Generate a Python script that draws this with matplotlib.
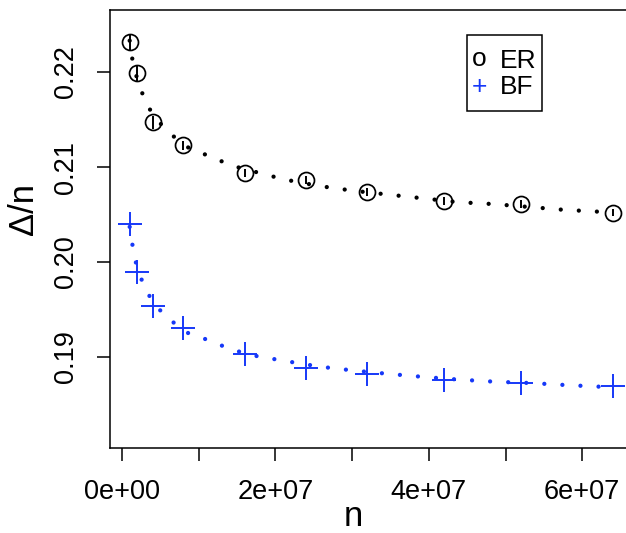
import numpy as np
import matplotlib
matplotlib.use("Agg")
import matplotlib.pyplot as plt
from matplotlib.patches import Rectangle

plt.rcParams['font.family'] = ['Liberation Sans', 'DejaVu Sans']

# measured points
n_vals = [1e6, 2e6, 4e6, 8e6, 1.6e7, 2.4e7, 3.2e7, 4.2e7, 5.2e7, 6.4e7]
er_vals = [0.2232, 0.2199, 0.2147, 0.2123, 0.2094, 0.2086, 0.2074, 0.2064, 0.2061, 0.2052]
er_err = [0.00084, 0.00084, 0.00068, 0.00047, 0.00042, 0.00042, 0.00042, 0.0004, 0.0004, 0.00038]
bf_vals = [0.2040, 0.1990, 0.1954, 0.1931, 0.1903, 0.1888, 0.1882, 0.1876, 0.1873, 0.1869]

# fitted curves
er_fit_n = [0.1e7, 0.134e7, 0.183e7, 0.257e7, 0.352e7, 0.473e7, 0.648e7, 0.821e7, 1.03e7,
            1.239e7, 1.451e7, 2.11e7, 2.57e7, 3.02e7, 3.47e7, 3.93e7, 4.38e7, 4.84e7,
            5.30e7, 5.75e7, 6.21e7, 6.4e7]
er_fit = [0.2233, 0.2214, 0.2197, 0.2179, 0.2162, 0.2148, 0.2134, 0.2122, 0.2115,
          0.2108, 0.2101, 0.2087, 0.2080, 0.2075, 0.2071, 0.2067, 0.2063, 0.2061,
          0.2058, 0.2055, 0.2053, 0.2052]
bf_fit_n = [0.1e7, 0.134e7, 0.179e7, 0.248e7, 0.343e7, 0.469e7, 0.639e7, 0.812e7, 1.03e7,
            1.243e7, 1.456e7, 1.678e7, 1.904e7, 2.125e7, 2.58e7, 3.04e7, 3.49e7, 3.95e7,
            4.41e7, 4.86e7, 5.32e7, 5.78e7, 6.24e7, 6.4e7]
bf_fit = [0.2037, 0.2019, 0.2000, 0.19828, 0.1966, 0.19513, 0.19386, 0.19266, 0.19207,
          0.19137, 0.19074, 0.19021, 0.18989, 0.18958, 0.18898, 0.18856, 0.18821, 0.18789,
          0.18761, 0.1874, 0.18726, 0.18705, 0.18687, 0.1868]

blue = '#1638f8'

fig = plt.figure(figsize=(6.26, 5.33), dpi=100)
ax = fig.add_axes([110 / 626, 85 / 533, 522 / 626, 438 / 533])

dots = dict(linestyle=(0, (0.001, 4.2)), linewidth=3.1, dash_capstyle='round')
ax.plot(er_fit_n, er_fit, color='black', **dots)
ax.plot(bf_fit_n, bf_fit, color=blue, **dots)

ax.errorbar(n_vals, er_vals, yerr=er_err, fmt='none', ecolor='black', elinewidth=1.4)
ax.plot(n_vals, er_vals, linestyle='none', marker='o', markersize=11.5,
        markerfacecolor='none', markeredgecolor='black', markeredgewidth=1.25)
ax.plot(n_vals, bf_vals, linestyle='none', marker='+', markersize=17.5,
        markeredgecolor=blue, markeredgewidth=1.4)

ax.set_xlim(-0.1565e7, 6.649e7)
ax.set_ylim(0.18042, 0.22653)
ax.set_xticks(np.arange(0, 7e7, 1e7))
ax.set_xticklabels(['0e+00', '', '2e+07', '', '4e+07', '', '6e+07'])
ax.set_yticks([0.19, 0.20, 0.21, 0.22])
ax.set_yticklabels(['0.19', '0.20', '0.21', '0.22'], rotation=90, va='center')
ax.tick_params(direction='out', length=9.5, width=1.1, labelsize=19.5, pad=13)
for s in ax.spines.values():
    s.set_linewidth(1.1)

ax.set_xlabel('n', fontsize=25)
ax.set_ylabel('Δ/n', fontsize=25)
ax.xaxis.set_label_coords(0.467, -0.118)
ax.yaxis.set_label_coords(-0.135, 0.545)

# legend box
ax.add_patch(Rectangle((467 / 522 - 110 / 522, (448 - 111) / 438), 75 / 522, 76 / 438,
                       transform=ax.transAxes, facecolor='white', edgecolor='black',
                       linewidth=1.1, zorder=5))
ax.text((479 - 110) / 522, (448 - 59) / 438, 'o', transform=ax.transAxes, fontsize=19,
        ha='center', va='center', zorder=6)
ax.text((500 - 110) / 522, (448 - 61) / 438, 'ER', transform=ax.transAxes, fontsize=19,
        ha='left', va='center', zorder=6)
ax.text((479 - 110) / 522, (448 - 87) / 438, '+', transform=ax.transAxes, fontsize=19,
        color=blue, ha='center', va='center', zorder=6)
ax.text((500 - 110) / 522, (448 - 87) / 438, 'BF', transform=ax.transAxes, fontsize=19,
        ha='left', va='center', zorder=6)

fig.savefig('out.png', dpi=100)
